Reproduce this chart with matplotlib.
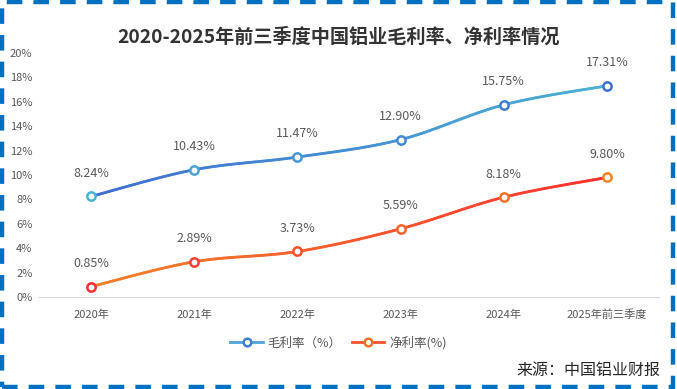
import numpy as np
import matplotlib.pyplot as plt
from matplotlib.collections import LineCollection
from matplotlib.colors import LinearSegmentedColormap
from matplotlib.lines import Line2D
from matplotlib.patches import Rectangle

plt.rcParams['font.family'] = ['Noto Sans CJK SC', 'DejaVu Sans']

years = ['2020年', '2021年', '2022年', '2023年', '2024年', '2025年前三季度']
gross = [8.24, 10.43, 11.47, 12.90, 15.75, 17.31]
net = [0.85, 2.89, 3.73, 5.59, 8.18, 9.80]
series_names = ['毛利率（%）', '净利率(%)']
title = '2020-2025年前三季度中国铝业毛利率、净利率情况'
source = '来源：中国铝业财报'

grey = '#595959'


def smooth_curve(x, y, n=40):
    # catmull-rom style bezier, like excel "smoothed line"
    pts = np.column_stack([x, y]).astype(float)
    ext = np.vstack([pts[0], pts, pts[-1]])
    t = np.linspace(0, 1, n)[:, None]
    out = []
    for i in range(len(pts) - 1):
        p0, p1, p2, p3 = ext[i], ext[i + 1], ext[i + 2], ext[i + 3]
        c1 = p1 + (p2 - p0) / 6
        c2 = p2 - (p3 - p1) / 6
        seg = ((1 - t) ** 3) * p1 + 3 * ((1 - t) ** 2) * t * c1 + 3 * (1 - t) * t ** 2 * c2 + t ** 3 * p2
        out.append(seg if i == 0 else seg[1:])
    return np.vstack(out)


def gradient_line(ax, x, y, c_start, c_end, marker_start, marker_end):
    poly = smooth_curve(x, y)
    segs = np.stack([poly[:-1], poly[1:]], axis=1)
    cmap = LinearSegmentedColormap.from_list('g', [c_start, c_end])
    t = (segs[:, 0, 0] - x[0]) / (x[-1] - x[0])
    lc = LineCollection(segs, colors=cmap(t), linewidth=2.0, capstyle='round',
                        joinstyle='round', zorder=2)
    ax.add_collection(lc)
    mcmap = LinearSegmentedColormap.from_list('m', [marker_start, marker_end])
    for i, (xi, yi) in enumerate(zip(x, y)):
        ax.plot(xi, yi, 'o', ms=6, mfc='white', mec=mcmap(i / (len(x) - 1)),
                mew=1.8, zorder=3)
        ax.annotate(f'{yi:.2f}%', (xi, yi), xytext=(0, 12), textcoords='offset points',
                    ha='center', va='bottom', fontsize=9, color=grey)


fig = plt.figure(figsize=(6.77, 3.89), dpi=100)
ax = fig.add_axes([0.0583, 0.2365, 0.9144, 0.6273])

x = np.arange(len(years))
gradient_line(ax, x, gross, '#3F6FD1', '#4BB1D3', '#4BB1D3', '#3F6FD1')
gradient_line(ax, x, net, '#F0822A', '#FF3030', '#FF3030', '#F0822A')

ax.set_xlim(-0.5, len(years) - 0.5)
ax.set_ylim(0, 20)
ax.set_yticks(np.arange(0, 21, 2))
ax.set_yticklabels([f'{v}%' for v in range(0, 21, 2)])
ax.set_xticks(x)
ax.set_xticklabels(years)
ax.tick_params(length=0, labelsize=8, colors=grey)
ax.tick_params(axis='x', pad=9)
ax.tick_params(axis='y', pad=5)
for s in ['top', 'left', 'right']:
    ax.spines[s].set_visible(False)
ax.spines['bottom'].set_color('#D9D9D9')

fig.text(0.5, 0.905, title, ha='center', va='center', fontsize=13.8, fontweight='bold',
         color='#333333')

handles = [
    Line2D([], [], color='#4FA3D6', lw=2.0, marker='o', ms=5.5, mfc='white', mec='#3F7FD1', mew=1.8),
    Line2D([], [], color='#FA5030', lw=2.0, marker='o', ms=5.5, mfc='white', mec='#F0722A', mew=1.8),
]
fig.legend(handles, series_names, loc='center', bbox_to_anchor=(0.5, 0.118), ncol=2,
           frameon=False, fontsize=9, labelcolor=grey, handlelength=2.6,
           columnspacing=0.8, handletextpad=0.4)

fig.text(0.976, 0.048, source, ha='right', va='center', fontsize=11.5, color='#262626')

# dashed blue frame around the figure
fig.patches.append(Rectangle((0.003, 0.005), 0.991, 0.99, transform=fig.transFigure,
                             fill=False, edgecolor='#0070C0', lw=3.2,
                             linestyle=(0, (3.5, 2.5))))

fig.savefig('out.png', dpi=100)
